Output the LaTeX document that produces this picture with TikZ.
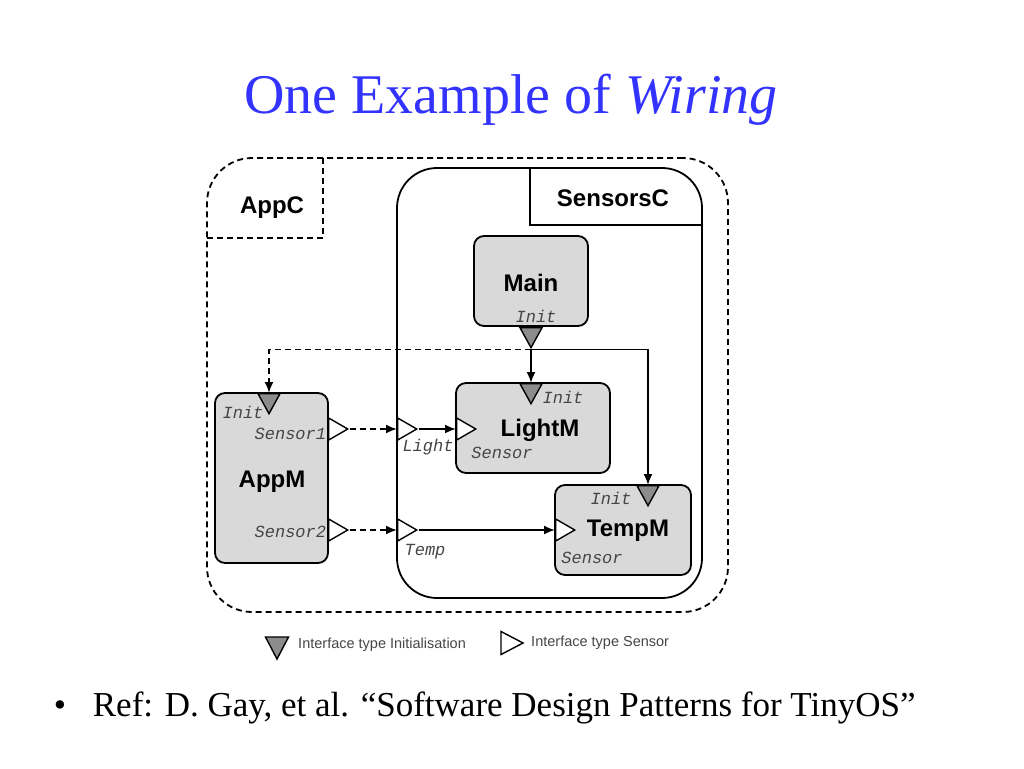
\documentclass[tikz,border=0pt]{standalone}
\usepackage{fontspec}
\setmainfont{Liberation Serif}
\newfontfamily\labfont{Liberation Sans}
\newfontfamily\portfont{Liberation Mono}
\usepackage{xcolor}
\usetikzlibrary{shapes.geometric,arrows.meta}
\definecolor{titleblue}{RGB}{51,51,255}
\definecolor{boxgray}{RGB}{217,217,217}
\definecolor{portgray}{RGB}{140,140,140}
\definecolor{porttext}{RGB}{70,70,70}

\begin{document}
\begin{tikzpicture}[x=1pt,y=-1pt,line width=1.8pt,
		comp/.style={draw,fill=boxgray,rounded corners=10pt,inner sep=0pt},
		initport/.style={isosceles triangle,isosceles triangle stretches,shape border rotate=270,draw,line width=1.4pt,fill=portgray,minimum width=22pt,minimum height=20pt,inner sep=0pt},
		sensport/.style={isosceles triangle,isosceles triangle stretches,draw,line width=1.4pt,fill=white,minimum width=22pt,minimum height=19pt,inner sep=0pt},
		lab/.style={font=\labfont\bfseries\fontsize{24}{28}\selectfont},
		port/.style={font=\portfont\itshape\fontsize{17}{20}\selectfont,text=porttext,inner sep=0pt},
		wire/.style={-{Latex[length=11pt,width=9pt]}},
		dashline/.style={dash pattern=on 6pt off 4pt}]
		\useasboundingbox (0,0) rectangle (1024,768);
		
		\node[text=titleblue,font=\fontsize{56}{60}\selectfont] (title) at (511,100) {One Example of \textit{Wiring}};
		
		\node[draw,dashline,rounded corners=45pt,minimum width=521pt,minimum height=454pt,inner sep=0pt] (appC) at (467.5,385) {};
		\draw[dashline] (207,238) -| (323,158);
		\node[lab] (appCl) at (272,208) {AppC};
		
		\node[draw,rounded corners=40pt,minimum width=305pt,minimum height=430pt,inner sep=0pt] (sensC) at (549.5,383) {};
		\draw (530,168) |- (702,225);
		\node[lab] (sensCl) at (613,198) {SensorsC};
		
		\node[comp,minimum width=114pt,minimum height=90pt] (main) at (531,281) {};
		\node[comp,minimum width=154pt,minimum height=90pt] (lightM) at (533,428) {};
		\node[comp,minimum width=136pt,minimum height=90pt] (tempM) at (623,530) {};
		\node[comp,minimum width=113pt,minimum height=170pt] (appM) at (271.5,478) {};
		
		\node[lab] (mainl) at (531,283) {Main};
		\node[lab] (lightMl) at (540,430) {LightM};
		\node[lab] (tempMl) at (628,531) {TempM};
		\node[lab] (appMl) at (272,482) {AppM};
		
		\node[initport,anchor=north] (mainI) at (531,327) {};
		\node[initport,anchor=north] (lightI) at (531,383) {};
		\node[initport,anchor=north] (tempI) at (648,485) {};
		\node[initport,anchor=north] (appI) at (269,393) {};
		
		\node[sensport,anchor=west] (sens1) at (328,429) {};
		\node[sensport,anchor=west] (sens2) at (328,530) {};
		\node[sensport,anchor=west] (lightP) at (397,429) {};
		\node[sensport,anchor=west] (tempP) at (397,530) {};
		\node[sensport,anchor=west] (lightS) at (456,429) {};
		\node[sensport,anchor=west] (tempS) at (555,530) {};
		
		\node[port] (mainIl) at (536,316) {Init};
		\node[port] (lightIl) at (563,397) {Init};
		\node[port] (lightSl) at (502,453) {Sensor};
		\node[port] (tempIl) at (611,498) {Init};
		\node[port] (tempSl) at (592,558) {Sensor};
		\node[port] (appIl) at (243,412) {Init};
		\node[port,anchor=east] (sens1l) at (327,434) {Sensor1};
		\node[port,anchor=east] (sens2l) at (327,532) {Sensor2};
		\node[port] (lightPl) at (428,447) {Light};
		\node[port] (tempPl) at (425,552) {Temp};
		
		\draw[wire] (mainI.apex) -- (lightI.north);
		\draw[wire,dashline] (mainI.apex) -| (appI.north);
		\draw[wire] (mainI.apex) -| (tempI.north);
		\draw[wire,dashline] (sens1.apex) -- (lightP.west);
		\draw[wire] (lightP.apex) -- (lightS.west);
		\draw[wire,dashline] (sens2.apex) -- (tempP.west);
		\draw[wire] (tempP.apex) -- (tempS.west);
		
		\node[initport,minimum width=23pt,minimum height=22pt] (legI) at (277,644) {};
		\node[anchor=west,font=\labfont\fontsize{14.5}{16}\selectfont,text=porttext] (legIl) at (294,645) {Interface type Initialisation};
		\node[sensport,fill=none,minimum width=23pt,minimum height=22pt] (legS) at (508,643) {};
		\node[anchor=west,font=\labfont\fontsize{14.5}{16}\selectfont,text=porttext] (legSl) at (527,643) {Interface type Sensor};
		
		\node[anchor=base,font=\fontsize{35}{40}\selectfont] (bullet) at (60,716) {•};
		\node[anchor=base west,font=\fontsize{35}{40}\selectfont,inner sep=0pt] (ref) at (92,716) {Ref: D. Gay, et al. “Software Design Patterns for TinyOS”};
	\end{tikzpicture}
\end{document}
